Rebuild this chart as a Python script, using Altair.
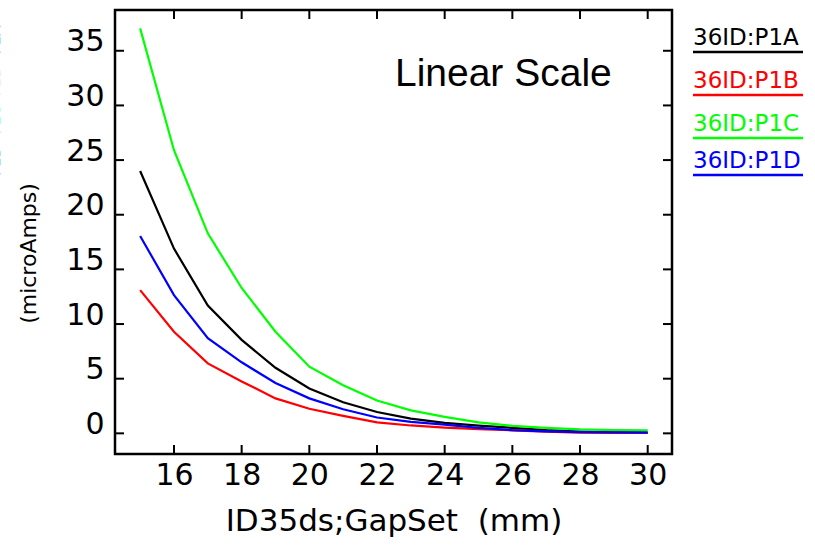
import altair as alt
import pandas as pd

# ---- data ----
gap = [15, 16, 17, 18, 19, 20, 21, 22, 23, 24, 25, 26, 27, 28, 29, 30]
p1a = [24.0, 16.9, 11.7, 8.55, 6.0, 4.1, 2.85, 1.95, 1.35, 0.95, 0.7, 0.5, 0.3, 0.17, 0.1, 0.06]
p1b = [13.1, 9.3, 6.4, 4.75, 3.2, 2.25, 1.6, 1.0, 0.72, 0.53, 0.38, 0.28, 0.15, 0.06, 0.04, 0.03]
p1c = [37.05, 25.9, 18.3, 13.3, 9.3, 6.1, 4.4, 3.0, 2.1, 1.5, 1.0, 0.68, 0.5, 0.36, 0.3, 0.27]
p1d = [18.05, 12.65, 8.7, 6.5, 4.6, 3.2, 2.2, 1.45, 1.05, 0.8, 0.5, 0.3, 0.18, 0.11, 0.08, 0.06]

series_names = ["36ID:P1A", "36ID:P1B", "36ID:P1C", "36ID:P1D"]
series_colors = ["#000000", "#ff0000", "#00ff00", "#0000ff"]
x_ticks = [16, 18, 20, 22, 24, 26, 28, 30]
y_ticks = [0, 5, 10, 15, 20, 25, 30, 35]
x_title = "ID35ds;GapSet\u00a0\u00a0(mm)"
y_title = "(microAmps)"
cut_title = ["P1A", "P1B", "P1C", "P1D"]   # clipped coloured y-title fragments at the left edge
note_text = ["Linear Scale"]
note_x = [22.53]
note_y = [31.78]

W, H = 557, 444
x_dom = [14.257, 30.718]
y_dom = [-1.89, 38.73]

rows = []
for name, vals in zip(series_names, [p1a, p1b, p1c, p1d]):
    for g, v in zip(gap, vals):
        rows.append({"gap": g, "cur": v, "series": name})
df = pd.DataFrame(rows)

xs = alt.Scale(domain=x_dom, nice=False, zero=False)
ys = alt.Scale(domain=y_dom, nice=False, zero=False)

FONT = "DejaVu Sans"

x_axis = alt.Axis(values=x_ticks, ticks=False, domain=False, grid=False,
                  labelFont=FONT, labelFontSize=30, labelColor="black",
                  labelPadding=6, labelFlush=False, labelOverlap=False,
                  titleFont=FONT, titleFontSize=31, titleFontWeight="normal",
                  titleColor="black", titleY=76, titleBaseline="alphabetic")
y_axis = alt.Axis(values=y_ticks, ticks=False, domain=False, grid=False,
                  labelFont=FONT, labelFontSize=30, labelColor="black",
                  labelPadding=11, labelBaseline="alphabetic",
                  labelFlush=False, labelOverlap=False,
                  titleFont=FONT, titleFontSize=22, titleFontWeight="normal",
                  titleColor="black", titleAngle=270, titleX=-87, titleY=243,
                  titleAlign="center", titleBaseline="middle")


def X(field):
    return alt.X(field, scale=xs, title=x_title, axis=x_axis)


def Y(field):
    return alt.Y(field, scale=ys, title=y_title, axis=y_axis)


lines = alt.Chart(df).mark_line(strokeWidth=2.2).encode(
    x=X("gap:Q"),
    y=Y("cur:Q"),
    color=alt.Color("series:N", scale=alt.Scale(domain=series_names, range=series_colors),
                    legend=None),
    detail="series:N",
)

xt = pd.DataFrame({"xt": x_ticks})
yt = pd.DataFrame({"yt": y_ticks})


def xrule(y1, y2):
    return alt.Chart(xt).mark_rule(color="black", strokeWidth=2).encode(
        x=X("xt:Q"), y=alt.value(y1), y2=alt.value(y2))


def yrule(x1, x2):
    return alt.Chart(yt).mark_rule(color="black", strokeWidth=2).encode(
        y=Y("yt:Q"), x=alt.value(x1), x2=alt.value(x2))


ticks = [xrule(H, H - 9), xrule(0, 9), yrule(0, 9), yrule(W, W - 9)]

note = alt.Chart(pd.DataFrame({"t": note_text, "x": note_x, "y": note_y})).mark_text(
    font="Liberation Sans", fontSize=39, align="left", baseline="alphabetic", color="black"
).encode(x=X("x:Q"), y=Y("y:Q"), text="t:N")

legend_layers = []
underline_y = [42, 85, 128, 165]
cut_y = [30, 72, 110, 151]
for i, (name, col) in enumerate(zip(series_names, series_colors)):
    one = pd.DataFrame({"t": [name]})
    legend_layers.append(
        alt.Chart(one).mark_text(font=FONT, fontSize=23, align="left",
                                 baseline="alphabetic", color=col).encode(
            x=alt.value(578), y=alt.value(underline_y[i] - 7), text="t:N"))
    legend_layers.append(
        alt.Chart(one).mark_rule(color=col, strokeWidth=2.5).encode(
            x=alt.value(578), x2=alt.value(688), y=alt.value(underline_y[i])))
    frag = pd.DataFrame({"t": [cut_title[i]]})
    legend_layers.append(
        alt.Chart(frag).mark_text(font=FONT, fontSize=15, angle=270, align="center",
                                  baseline="alphabetic", color=col).encode(
            x=alt.value(-115), y=alt.value(cut_y[i]), text="t:N"))

chart = alt.layer(lines, *ticks, note, *legend_layers).properties(
    width=W, height=H,
    autosize=alt.AutoSizeParams(type="none"),
    padding={"left": 115, "top": 10, "right": 143, "bottom": 96},
    background="white",
).configure_view(stroke="black", strokeWidth=2.5)

chart.save("out.html", embed_options={"renderer": "svg", "actions": False})
